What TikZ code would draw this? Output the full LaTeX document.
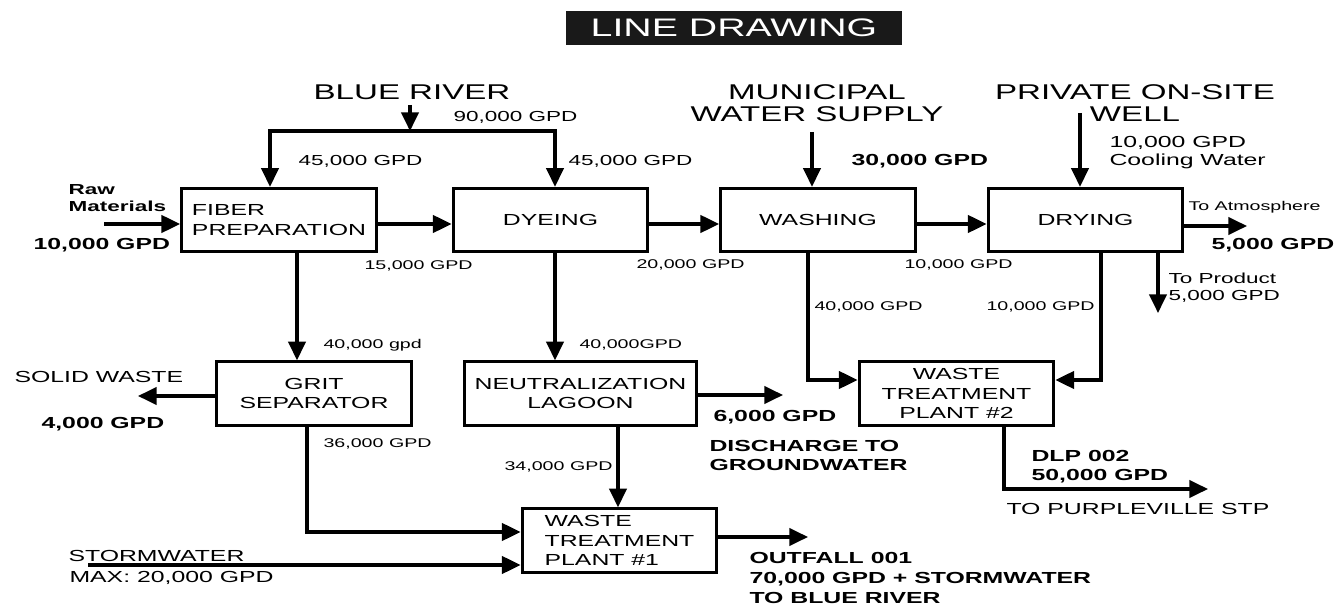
\documentclass[tikz,border=0pt]{standalone}
\usepackage{fontspec}
\setmainfont[FakeStretch=1.55]{Liberation Sans}
\usepackage{tikz}
\usetikzlibrary{arrows.meta}

\begin{document}
\begin{tikzpicture}[x=0.75pt,y=-0.75pt,line width=2.3pt,
  unit/.style={draw,minimum width=146pt,minimum height=47.5pt,inner sep=0pt,align=center,font=\fontsize{12}{14.6}\selectfont},
  flow/.style={-{Triangle[length=14pt,width=13pt]}},
  flowtwo/.style={{Triangle[length=14pt,width=13pt]}-{Triangle[length=14pt,width=13pt]}},
  src/.style={inner sep=0pt,anchor=north,align=center,font=\fontsize{16}{16.5}\selectfont},
  big/.style={inner sep=0pt,anchor=north west,align=left,font=\fontsize{12}{14.25}\selectfont},
  heavy/.style={big,font=\fontsize{12}{14.25}\selectfont\bfseries},
  mid/.style={inner sep=0pt,anchor=north west,align=left,font=\fontsize{10.9}{12.75}\selectfont},
  small/.style={inner sep=0pt,anchor=north west,font=\fontsize{9.5}{11}\selectfont}]
\useasboundingbox (0,0) rectangle (1336,605);

\node[fill=black!90,text=white,minimum width=252pt,minimum height=25.5pt,inner sep=0pt,font=\fontsize{19}{19}\selectfont] (title) at (734,28) {LINE DRAWING};

\node[unit,align=left] (fiber) at (279,220) {FIBER\\PREPARATION};
\node[unit] (dye) at (550.5,220) {DYEING};
\node[unit] (wash) at (818,220) {WASHING};
\node[unit] (dry) at (1085.5,220) {DRYING};
\node[unit] (grit) at (314,393.5) {GRIT\\SEPARATOR};
\node[unit,minimum width=174pt] (neut) at (580.5,393.5) {NEUTRALIZATION\\LAGOON};
\node[unit,align=left] (wtp1) at (619.5,540.5) {WASTE\\TREATMENT\\PLANT \#1};
\node[unit] (wtp2) at (956.5,393.5) {WASTE\\TREATMENT\\PLANT \#2};

\node[src] (river) at (412,83) {BLUE RIVER};
\node[src] (muni) at (817,83) {MUNICIPAL\\WATER SUPPLY};
\node[src] (well) at (1135,83) {PRIVATE ON-SITE\\WELL};

\coordinate (brT) at (410,105);
\coordinate (brL) at (270,131);
\coordinate (brR) at (555,131);
\draw[flow] (brT) -- (brT |- brL);
\draw[flowtwo] (brL |- fiber.north) -- (brL) -- (brR) -- (brR |- dye.north);
\coordinate (rawS) at (104,224);
\draw[flow] (rawS) -- (fiber.west |- rawS);
\draw[flow] (fiber.east |- rawS) -- (dye.west |- rawS);
\draw[flow] (dye.east |- rawS) -- (wash.west |- rawS);
\draw[flow] (wash.east |- rawS) -- (dry.west |- rawS);
\coordinate (munS) at (812,132);
\draw[flow] (munS) -- (munS |- wash.north);
\coordinate (wellS) at (1080,113);
\draw[flow] (wellS) -- (wellS |- dry.north);
\coordinate (atm) at (1247,226);
\draw[flow] (dry.east |- atm) -- (atm);
\coordinate (prod) at (1158,313);
\draw[flow] (prod |- dry.south) -- (prod);
\coordinate (dryT) at (1101,380);
\draw[flow] (dryT |- dry.south) -- (dryT) -- (wtp2.east |- dryT);
\coordinate (washT) at (808,380);
\draw[flow] (washT |- wash.south) -- (washT) -- (wtp2.west |- washT);
\coordinate (fg) at (297,300);
\draw[flow] (fg |- fiber.south) -- (fg |- grit.north);
\coordinate (solid) at (138,396);
\draw[flow] (grit.west |- solid) -- (solid);
\coordinate (gw) at (307,532);
\draw[flow] (gw |- grit.south) -- (gw) -- (wtp1.west |- gw);
\coordinate (storm) at (88,565);
\draw[flow] (storm) -- (wtp1.west |- storm);
\coordinate (dn) at (555,300);
\draw[flow] (dn |- dye.south) -- (dn |- neut.north);
\coordinate (gnd) at (783,395);
\draw[flow] (neut.east |- gnd) -- (gnd);
\coordinate (nw) at (618,470);
\draw[flow] (nw |- neut.south) -- (nw |- wtp1.north);
\coordinate (out) at (808,537);
\draw[flow] (wtp1.east |- out) -- (out);
\coordinate (dlp) at (1004,489);
\coordinate (stp) at (1208,489);
\draw[flow] (dlp |- wtp2.south) -- (dlp) -- (stp);

\node[mid] (q90) at (452,110) {90,000 GPD};
\node[mid] (q45a) at (297,154) {45,000 GPD};
\node[mid] (q45b) at (567,154) {45,000 GPD};
\node[mid,font=\fontsize{10.9}{12.75}\selectfont\bfseries] (raw) at (67,183) {Raw\\Materials};
\node[heavy] (q10in) at (32,236.5) {10,000 GPD};
\node[heavy] (q30) at (850,153) {30,000 GPD};
\node[big,font=\fontsize{12}{13.5}\selectfont] (cool) at (1108,135) {10,000 GPD\\Cooling Water};
\node[small] (toatm) at (1187,199.5) {To Atmosphere};
\node[heavy] (q5atm) at (1210,237) {5,000 GPD};
\node[mid] (toprod) at (1167,271) {To Product\\5,000 GPD};
\node[small] (q15) at (363,259.5) {15,000 GPD};
\node[small] (q20) at (635,258.5) {20,000 GPD};
\node[small] (q10dry) at (903,258.5) {10,000 GPD};
\node[small] (q40w) at (813,300.5) {40,000 GPD};
\node[small] (q10d) at (985,300.5) {10,000 GPD};
\node[small] (q40g) at (322,338) {40,000 gpd};
\node[small] (q40n) at (578,338.5) {40,000GPD};
\node[small] (q36) at (322,437.5) {36,000 GPD};
\node[small] (q34) at (503,460.5) {34,000 GPD};
\node[big] (swaste) at (13,370) {SOLID WASTE};
\node[heavy] (q4) at (40,416) {4,000 GPD};
\node[heavy] (q6) at (712,409) {6,000 GPD};
\node[heavy] (ground) at (708,439) {DISCHARGE TO\\GROUNDWATER};
\node[big] (stormt) at (67,549) {STORMWATER};
\node[big] (stormq) at (68,570) {MAX: 20,000 GPD};
\node[heavy,font=\fontsize{12}{15}\selectfont\bfseries] (outf) at (748,551) {OUTFALL 001\\70,000 GPD + STORMWATER\\TO BLUE RIVER};
\node[heavy] (dlpt) at (1030,449) {DLP 002\\50,000 GPD};
\node[big] (stpt) at (1005,502) {TO PURPLEVILLE STP};
\end{tikzpicture}
\end{document}
